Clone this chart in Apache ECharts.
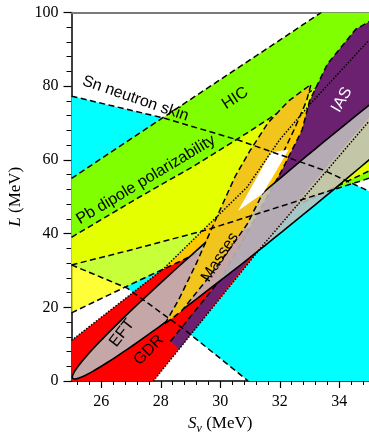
<!DOCTYPE html>
<html>
<head>
<meta charset="utf-8">
<script src="https://cdn.jsdelivr.net/npm/echarts@6/dist/echarts.min.js"></script>
<style>
  html, body { margin: 0; padding: 0; background: #fff; }
  #chart { width: 369px; height: 435px; }
</style>
</head>
<body>
<div id="chart"></div>
<script>
// Experimental constraints on the symmetry energy S_v and its slope L (both MeV).
// Each band edge is a list of [S_v, L] vertices.
const snUpper  = [[25, 77.3], [28.08, 71.4], [30.6, 65.4], [32.5, 60], [33.45, 57.3], [35, 51.5]];
const snLower  = [[25, 31.5], [26.87, 25.2], [28.82, 13.8], [30.94, 0]];
const hicUpper = [[25, 55], [33.4, 100]];
const hicLower = [[25, 31.5], [26.97, 35.5], [29.54, 41], [35, 55]];
const pbUpper  = [[25, 39], [27.3, 50], [29.15, 58.5], [31.0, 67.8], [33.4, 80.5], [35, 88]];
const pbLower  = [[25, 18.5], [27.3, 27.4], [28.55, 32.1], [35, 57]];
const gdrLeft  = [[25, 11], [28.1, 30.5], [30.9, 52.6], [32.0, 65.5], [33.05, 75.4], [35, 92.5]];
const gdrRight = [[27.75, 0], [31.39, 36.4], [35, 70.5]];
const iasLeft  = [[28.33, 10.8], [29.99, 27.4], [31.1, 43], [32.08, 57.3], [32.75, 68.1],
                  [33.0, 76], [33.6, 86], [34.56, 95.5], [35, 97.5]];
const iasRight = [[28.62, 8.6], [31.3, 36.4], [35, 71.5]];
const massesContour = [[28.14, 15.5], [28.6, 22], [29.2, 32], [29.99, 46.4], [30.5, 55.5],
                       [31.0, 62.5], [31.6, 70], [32.3, 76], [33.05, 80.5], [32.9, 76],
                       [32.5, 68.5], [32.0, 60], [31.4, 50.5], [30.9, 42.5], [30.2, 34.5],
                       [29.5, 27], [28.7, 19]];
// EFT ellipse: centre and two conjugate semi-axis vectors
const eftCenter = [33.35, 56.44];
const eftMajor  = [8.31, 55.71];
const eftMinor  = [0.462, -4.489];
// Region allowed by all constraints
const allowedRegion = [[31.7, 62.0], [32.3, 62.8], [31.45, 51.0], [30.6, 46.2]];

const xMajorTicks = [26, 28, 30, 32, 34];
const yMajorStep = 20;

// ---- derived shapes ----
const rev = a => a.slice().reverse();
const snPoly  = snUpper.concat([[35, 0]], rev(snLower));
const hicPoly = hicUpper.concat([[35, 100]], rev(hicLower));
const pbPoly  = pbUpper.concat(rev(pbLower));
const gdrPoly = [[25, 0]].concat(gdrLeft, rev(gdrRight));
const iasPoly = iasLeft.concat([[35.6, 99.5], [35.6, 77.5]], rev(iasRight));
const eftPoly = [];
for (let i = 0; i < 180; i++) {
  const t = 2 * Math.PI * i / 180, c = Math.cos(t), s = Math.sin(t);
  eftPoly.push([eftCenter[0] + eftMajor[0] * c + eftMinor[0] * s,
                eftCenter[1] + eftMajor[1] * c + eftMinor[1] * s]);
}
const xMinorTicks = [];
for (let v = 25.2; v < 35; v += 0.4) {
  const r = Math.round(v * 10) / 10;
  if (!xMajorTicks.includes(r)) xMinorTicks.push(r);
}

const DASH = [6, 3.5];
const DOT = [1.5, 1.6];

let zLevel = 1;
function layer(draw) {
  return {
    type: 'custom', coordinateSystem: 'cartesian2d', clip: true, silent: true,
    z: zLevel++, data: [[30, 50]], animation: false,
    renderItem: (params, api) => draw(pts => pts.map(p => api.coord(p)))
  };
}
function fill(poly, color, stroke, extra) {
  return layer(map => ({
    type: 'polygon', shape: { points: map(poly) },
    style: Object.assign({ fill: color, stroke: stroke || 'none', lineWidth: 1.5 }, extra || {})
  }));
}
function edge(line, dash, width) {
  return layer(map => ({
    type: 'polyline', shape: { points: map(line) },
    style: { fill: 'none', stroke: '#000', lineWidth: width || 1.5, lineDash: dash }
  }));
}

const labelLayout = [
  { text: 'Sn neutron skin', at: [27.15, 76.6], angle: -19, color: '#000' },
  { text: 'HIC', at: [30.5, 76.7], angle: 33, color: '#000' },
  { text: 'Pb dipole polarizability', at: [27.5, 54.6], angle: 31, color: '#000' },
  { text: 'Masses', at: [29.99, 33.6], angle: 57, color: '#000' },
  { text: 'IAS', at: [34.09, 76.3], angle: 60, color: '#fff' },
  { text: 'EFT', at: [26.7, 13.0], angle: 52, color: '#000' },
  { text: 'GDR', at: [27.6, 8.4], angle: 45, color: '#000' }
];
function textLayer(lbl) {
  return layer(map => {
    const p = map([lbl.at])[0];
    return {
      type: 'text', x: p[0], y: p[1], rotation: lbl.angle * Math.PI / 180,
      style: { text: lbl.text, fill: lbl.color, font: '16px "Liberation Sans", Arial, sans-serif',
               align: 'center', verticalAlign: 'middle' }
    };
  });
}

const series = [
  fill(snPoly, '#00ffff'),
  fill(hicPoly, '#80ff00'),
  fill(gdrPoly, '#ff0000'),
  fill(pbPoly, 'rgba(255,255,0,0.78)'),
  edge(pbUpper, DASH),
  edge(pbLower, DASH),
  fill(iasPoly, '#6b2170'),
  edge(iasLeft, DASH),
  fill(eftPoly, 'rgba(190,190,190,0.88)', '#000', { lineWidth: 1.6 }),
  fill(massesContour, '#f2c51d', '#000', { lineDash: DASH }),
  fill(allowedRegion, '#ffffff'),
  edge(snUpper, DASH),
  edge(snLower, DASH),
  edge(hicUpper, DASH),
  edge(hicLower, DASH),
  edge(gdrLeft, DOT),
  edge(gdrRight, DOT)
].concat(labelLayout.map(textLayer));

const serif = '"Liberation Serif", "DejaVu Serif", serif';
const axisLineStyle = { color: '#000', width: 1.5 };

const chart = echarts.init(document.getElementById('chart'), null, { renderer: 'canvas' });
chart.setOption({
  animation: false,
  backgroundColor: '#fff',
  grid: { left: 71.5, right: 0, top: 12.5, bottom: 54, containLabel: false, outerBoundsMode: 'none' },
  xAxis: [
    {
      type: 'value', min: 25, max: 35, position: 'bottom',
      axisLine: { show: true, onZero: false, lineStyle: axisLineStyle },
      axisTick: { show: true, length: 7, lineStyle: { color: '#000', width: 1.2 }, customValues: xMajorTicks },
      axisLabel: { customValues: xMajorTicks, margin: 13, color: '#000', fontFamily: serif, fontSize: 16 },
      splitLine: { show: false },
      name: '{i|S}{s|v} (MeV)', nameLocation: 'middle', nameGap: 32,
      nameTextStyle: {
        color: '#000', fontFamily: serif, fontSize: 17,
        rich: {
          i: { fontFamily: serif, fontStyle: 'italic', fontSize: 17, lineHeight: 22, color: '#000' },
          s: { fontFamily: serif, fontStyle: 'italic', fontSize: 12, lineHeight: 12, verticalAlign: 'bottom', color: '#000' }
        }
      }
    },
    {
      type: 'value', min: 25, max: 35, position: 'bottom',
      axisLine: { show: false, onZero: false },
      axisTick: { show: true, length: 4, lineStyle: { color: '#000', width: 1 }, customValues: xMinorTicks },
      axisLabel: { show: false }, splitLine: { show: false }
    },
    {
      type: 'value', min: 25, max: 35, position: 'top',
      axisLine: { show: true, onZero: false, lineStyle: { color: '#7a7a7a', width: 2 } },
      axisTick: { show: false }, axisLabel: { show: false }, splitLine: { show: false }
    }
  ],
  yAxis: {
    type: 'value', min: 0, max: 100, interval: yMajorStep,
    axisLine: { show: true, onZero: false, lineStyle: axisLineStyle },
    axisTick: { show: true, length: 8, lineStyle: { color: '#000', width: 1.2 } },
    minorTick: { show: true, splitNumber: 5, length: 5, lineStyle: { color: '#000', width: 1 } },
    axisLabel: { margin: 13, color: '#000', fontFamily: serif, fontSize: 16 },
    splitLine: { show: false }, minorSplitLine: { show: false },
    name: '{i|L} (MeV)', nameLocation: 'middle', nameGap: 45, nameRotate: 90,
    nameTextStyle: {
      color: '#000', fontFamily: serif, fontSize: 17,
      rich: { i: { fontFamily: serif, fontStyle: 'italic', fontSize: 17, color: '#000' } }
    }
  },
  series: series
});
</script>
</body>
</html>
